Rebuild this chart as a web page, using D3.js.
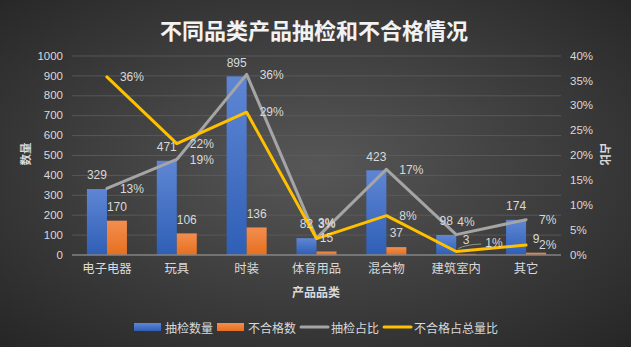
<!DOCTYPE html>
<html><head><meta charset="utf-8">
<script src="https://cdn.jsdelivr.net/npm/d3@7"></script>
<style>html,body{margin:0;padding:0;background:#333;overflow:hidden}</style>
</head><body><svg id="c" width="631" height="347"></svg>
<script>
const categories = ["电子电器","玩具","时装","体育用品","混合物","建筑室内","其它"];
const sampled = [329,471,895,82,423,98,174];
const failed = [170,106,136,15,37,3,9];
const sampledShare = [0.133,0.191,0.362,0.033,0.171,0.040,0.070];
const failedShare = [0.357,0.223,0.286,0.032,0.078,0.006,0.019];
const leftTicks = [0,100,200,300,400,500,600,700,800,900,1000];
const rightTicks = [0,0.05,0.10,0.15,0.20,0.25,0.30,0.35,0.40];
const seriesNames = ["抽检数量","不合格数","抽检占比","不合格占总量比"];
const titleText = "不同品类产品抽检和不合格情况";
const xTitle = "产品品类", yTitle = "数量", y2Title = "占比";

const W = 631, H = 347;
const L = 72, R = 561, T = 55.5, B = 254.5;
const FONT = '"Liberation Sans","Noto Sans CJK SC",Arial,sans-serif';
const CJK = '"Noto Sans CJK SC","Liberation Sans",sans-serif';
const txt = "#d9d9d9";
const colors = {blue:"#4472c4", orange:"#ed7d31", gray:"#a5a5a5", yellow:"#ffc000"};

const svg = d3.select("#c");
const defs = svg.append("defs");
const bg = defs.append("radialGradient").attr("id","bg").attr("cx","50%").attr("cy","48%").attr("r","72%");
bg.append("stop").attr("offset","0%").attr("stop-color","#575757");
bg.append("stop").attr("offset","100%").attr("stop-color","#262626");
function lg(id, c1, c2){
  const g = defs.append("linearGradient").attr("id",id).attr("x1",0).attr("y1",0).attr("x2",0).attr("y2",1);
  g.append("stop").attr("offset","0%").attr("stop-color",c1);
  g.append("stop").attr("offset","100%").attr("stop-color",c2);
}
lg("gb","#5f86d4","#2f5fb6");
lg("go","#f38e4f","#e6701f");

svg.append("rect").attr("width",W).attr("height",H).attr("fill","url(#bg)");

const x = d3.scaleBand().domain(categories).range([L,R]).padding(0);
const sub = d3.scaleBand().domain(["s","f"]).range([0,40]);
const off = (x.bandwidth()-40)/2;
const y = d3.scaleLinear().domain([0,1000]).range([B,T]);
const y2 = d3.scaleLinear().domain([0,0.4]).range([B,T]);
const cx = c => x(c) + x.bandwidth()/2;

// grid
svg.append("g").selectAll("line").data(leftTicks.filter(d=>d>0)).join("line")
  .attr("x1",L).attr("x2",R).attr("y1",d=>y(d)+0.5).attr("y2",d=>y(d)+0.5)
  .attr("stroke","#5e5e5e").attr("stroke-width",0.8);

// left axis
const ay = d3.axisLeft(y).tickValues(leftTicks).tickSize(0).tickPadding(9).tickFormat(d3.format("d"));
const gL = svg.append("g").attr("transform",`translate(${L},0)`).call(ay);
gL.select(".domain").remove();
gL.selectAll("text").attr("fill",txt).style("font",`11.5px ${FONT}`);
// right axis
const ay2 = d3.axisRight(y2).tickValues(rightTicks).tickSize(0).tickPadding(9).tickFormat(d3.format(".0%"));
const gR = svg.append("g").attr("transform",`translate(${R},0)`).call(ay2);
gR.select(".domain").remove();
gR.selectAll("text").attr("fill",txt).style("font",`11.5px ${FONT}`);

// bars
const gb = svg.append("g");
categories.forEach((c,i)=>{
  gb.append("rect").attr("x",x(c)+off+sub("s")).attr("width",sub.bandwidth())
    .attr("y",y(sampled[i])).attr("height",B-y(sampled[i])).attr("fill","url(#gb)");
  gb.append("rect").attr("x",x(c)+off+sub("f")).attr("width",sub.bandwidth())
    .attr("y",y(failed[i])).attr("height",B-y(failed[i])).attr("fill","url(#go)");
});

// baseline
svg.append("line").attr("x1",L).attr("x2",R).attr("y1",B+0.5).attr("y2",B+0.5)
  .attr("stroke","#a6a6a6").attr("stroke-width",1);

// x axis labels
const ax = d3.axisBottom(x).tickSize(0).tickPadding(10);
const gX = svg.append("g").attr("transform",`translate(0,${B})`).call(ax);
gX.select(".domain").remove();
gX.selectAll("text").attr("fill",txt).style("font",`12.3px ${CJK}`);

// lines
const line = d3.line().x((d,i)=>cx(categories[i])).y(d=>y2(d));
svg.append("path").datum(sampledShare).attr("d",line).attr("fill","none")
  .attr("stroke",colors.gray).attr("stroke-width",3).attr("stroke-linejoin","round").attr("stroke-linecap","round");
svg.append("path").datum(failedShare).attr("d",line).attr("fill","none")
  .attr("stroke",colors.yellow).attr("stroke-width",3).attr("stroke-linejoin","round").attr("stroke-linecap","round");

// bar labels
const gl = svg.append("g").style("font",`12px ${FONT}`).attr("fill",txt).attr("text-anchor","middle");
categories.forEach((c,i)=>{
  gl.append("text").attr("x",x(c)+off+sub("s")+sub.bandwidth()/2).attr("y",y(sampled[i])-14).attr("dy","0.35em").text(sampled[i]);
  gl.append("text").attr("x",x(c)+off+sub("f")+sub.bandwidth()/2).attr("y",y(failed[i])-14).attr("dy","0.35em").text(failed[i]);
});

// line labels (default to the right of point; a few moved like the original)
const pct = d3.format(".0%");
const grayOff = {3:[1.5,-15],5:[1,-13]};
const yelOff = {3:[1.5,-15],5:[29,-8.5]};
const gp = svg.append("g").style("font",`12px ${FONT}`).attr("fill",txt);
function lineLabels(vals, offs){
  vals.forEach((v,i)=>{
    const o = offs[i] || [13,0];
    gp.append("text").attr("x",cx(categories[i])+o[0]).attr("y",y2(v)+o[1]).attr("dy","0.35em").text(pct(v));
  });
}
lineLabels(sampledShare, grayOff);
lineLabels(failedShare, yelOff);
// leader line for 1%
{
  const px = cx(categories[5]), py = y2(failedShare[5]);
  svg.append("path").attr("d",`M${px+2},${py-3} Q${px+10},${py-7} ${px+25},${py-7.5}`)
    .attr("fill","none").attr("stroke","#a6a6a6").attr("stroke-width",0.8);
}

// titles
svg.append("text").attr("x",314).attr("y",29).attr("text-anchor","middle").attr("dominant-baseline","central")
  .attr("fill","#f2f2f2").style("font",`bold 22px ${CJK}`).text(titleText);
svg.append("text").attr("x",316).attr("y",291).attr("text-anchor","middle").attr("dominant-baseline","central")
  .attr("fill",txt).style("font",`bold 12px ${CJK}`).text(xTitle);
svg.append("text").attr("transform","translate(25,154) rotate(-90)").attr("text-anchor","middle").attr("dominant-baseline","central")
  .attr("fill",txt).style("font",`bold 11.5px ${CJK}`).text(yTitle);
svg.append("text").attr("transform","translate(606,154) rotate(90)").attr("text-anchor","middle").attr("dominant-baseline","central")
  .attr("fill",txt).style("font",`bold 11.5px ${CJK}`).text(y2Title);

// legend
const leg = svg.append("g");
const legY = 327;
let lx = 134;
const legKinds = ["bar","bar","line","line"];
const legColors = ["url(#gb)","url(#go)",colors.gray,colors.yellow];
seriesNames.forEach((n,i)=>{
  if(legKinds[i]==="bar"){
    leg.append("rect").attr("x",lx).attr("y",legY-4).attr("width",27).attr("height",8).attr("fill",legColors[i]);
  } else {
    leg.append("line").attr("x1",lx+1).attr("x2",lx+28).attr("y1",legY).attr("y2",legY)
      .attr("stroke",legColors[i]).attr("stroke-width",3).attr("stroke-linecap","round");
  }
  lx += 31;
  const t = leg.append("text").attr("x",lx).attr("y",legY).attr("dominant-baseline","central")
    .attr("fill",txt).style("font",`12px ${CJK}`).text(n);
  lx += t.node().getComputedTextLength() + 4;
});
</script></body></html>
